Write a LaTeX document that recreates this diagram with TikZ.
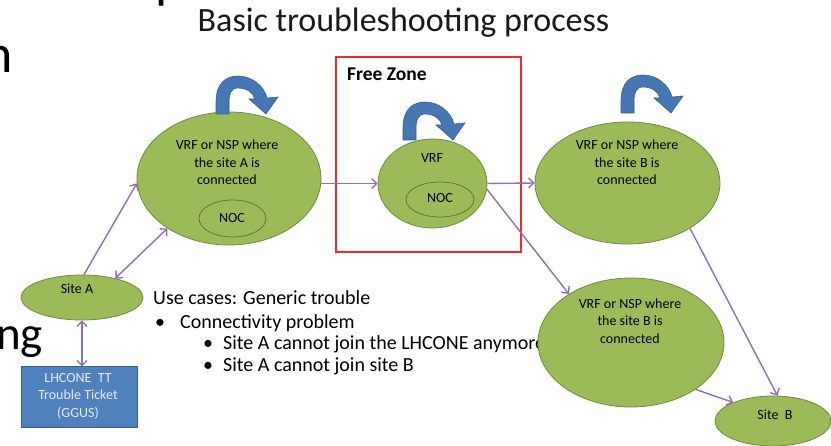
\documentclass[tikz,border=0pt]{standalone}
\usepackage{fontspec}
\setmainfont{Carlito}
\usetikzlibrary{shapes.geometric,arrows.meta}
\definecolor{olivefill}{HTML}{9BBB59}
\definecolor{olivedk}{HTML}{71893F}
\definecolor{nocline}{HTML}{5A6E32}
\definecolor{connc}{HTML}{8A70B4}
\definecolor{blu}{HTML}{4F81BD}
\definecolor{bludk}{HTML}{385D8A}
\definecolor{arrowfill}{HTML}{4677B5}
\definecolor{zonered}{HTML}{F02828}
\tikzset{
 greenell/.style={ellipse, draw=olivedk, fill=olivefill, line width=0.8pt, inner sep=0pt},
 nocell/.style={ellipse, draw=nocline, line width=0.7pt, inner sep=0pt},
 connarrow/.style={draw=connc, line width=1.4pt, -{Straight Barb[length=5pt,width=10pt]}},
 conndouble/.style={draw=connc, line width=1.4pt, {Straight Barb[length=5pt,width=10pt]}-{Straight Barb[length=5pt,width=10pt]}},
 smalltxt/.style={font=\fontsize{14}{17.5}\selectfont, align=center, inner sep=0pt, text=black},
 slidetxt/.style={font=\fontsize{20}{24}\selectfont, inner sep=0pt, anchor=base west, text=black},
 curlarrow/.pic={
   \filldraw[fill=arrowfill, draw=bludk, line width=0.6pt]
     (0,0) -- (0,-12) .. controls (0,-31) and (10,-38) .. (22,-38)
     .. controls (36,-38) and (48,-28) .. (51,-16)
     -- (62,-17) -- (50,0) -- (33,-15) -- (39,-15)
     .. controls (37,-22) and (30,-26) .. (22,-26)
     .. controls (15,-26) and (13,-20) .. (13,-12) -- (13,0) -- cycle;
 }
}
\begin{document}
\begin{tikzpicture}[x=1pt,y=-1pt]
\useasboundingbox (0,0) rectangle (831,446);
\clip (0,0) rectangle (831,446);

% slide fragments
\node[font=\fontsize{54}{60}\selectfont, inner sep=0pt, anchor=base west] (fragn) at (-16,73) {n};
\node[font=\fontsize{47}{56}\selectfont, inner sep=0pt, anchor=base west] (fragng) at (-4,350) {ng};
\node[font=\fontsize{54}{60}\selectfont, inner sep=0pt, anchor=base west] (fragp) at (155,-2) {p};

% title
\node[font=\fontsize{34}{40}\selectfont, inner sep=0pt, anchor=base, text=black!90] (title) at (403.5,32) {Basic troubleshooting process};

% use cases
\node[slidetxt] (u1) at (153,305) {Use cases: Generic trouble};
\node[slidetxt] (b1) at (155,329) {\textbullet};
\node[slidetxt] (u2) at (180,329) {Connectivity problem};
\node[slidetxt] (b2) at (203,350) {\textbullet};
\node[slidetxt] (u3) at (223,350) {Site A cannot join the LHCONE anymore};
\node[slidetxt] (b3) at (203,372) {\textbullet};
\node[slidetxt] (u4) at (223,372) {Site A cannot join site B};

% free zone
\node[draw=zonered, line width=1.3pt, minimum width=185pt, minimum height=195pt, inner sep=0pt] (fz) at (428.5,154.5) {};
\node[font=\bfseries\fontsize{19.5}{22}\selectfont, anchor=base west, inner sep=0pt, text=black] (fzt) at (347,81) {Free Zone};

% ellipses
\node[greenell, minimum width=184pt, minimum height=133pt] (ellA) at (229,178.5) {};
\node[greenell, minimum width=109pt, minimum height=89pt] (vrf) at (432.5,183.5) {};
\node[greenell, minimum width=185pt, minimum height=122pt] (ellB1) at (627.5,183) {};
\node[greenell, minimum width=186pt, minimum height=129pt] (ellB2) at (631,342.5) {};
\node[greenell, minimum width=122pt, minimum height=45pt] (siteA) at (82,297.5) {};
\node[greenell, minimum width=116pt, minimum height=50pt] (siteB) at (773,421) {};
\node[nocell, minimum width=67pt, minimum height=37pt] (nocA) at (232.5,218.5) {};
\node[nocell, minimum width=68pt, minimum height=35pt] (nocV) at (440,199.5) {};

% ticket box
\node[draw=bludk, fill=blu, line width=1pt, minimum width=116pt, minimum height=61pt, inner sep=0pt] (tt) at (79,397.5) {};

% texts in shapes
\node[smalltxt] (tA) at (227,162.5) {VRF or NSP where\\the site A is\\connected};
\node[smalltxt] (tB1) at (627,162.5) {VRF or NSP where\\the site B is\\connected};
\node[smalltxt] (tB2) at (630,321) {VRF or NSP where\\the site B is\\connected};
\node[smalltxt] (tV) at (432,158) {VRF};
\node[smalltxt] (tNA) at (232,218) {NOC};
\node[smalltxt] (tNV) at (440,198) {NOC};
\node[smalltxt] (tSA) at (77,289) {Site A};
\node[smalltxt] (tSB) at (775,415) {Site\ \ B};
\node[smalltxt, text=white!92!blue] (ttt) at (78,396) {LHCONE\ \ TT\\Trouble Ticket\\(GGUS)};

% connectors
\draw[connarrow] (siteA.85) -- (ellA.183);
\draw[conndouble] (siteA.30) -- (ellA.219);
\draw[connarrow] (ellA.east |- vrf.west) -- (vrf.west);
\draw[connarrow] (vrf.east) -- (ellB1.west);
\draw[connarrow] (vrf.-6) -- (ellB2.142);
\draw[connarrow] (ellB1.-36) -- (siteB.80);
\draw[connarrow] (ellB2.-36) -- (siteB.155);
\draw[conndouble] (siteA.south) -- (siteA.south |- tt.north);

% curl arrows
\pic at (216,114) {curlarrow};
\pic at (403,140) {curlarrow};
\pic at (621,113) {curlarrow};
\end{tikzpicture}
\end{document}
